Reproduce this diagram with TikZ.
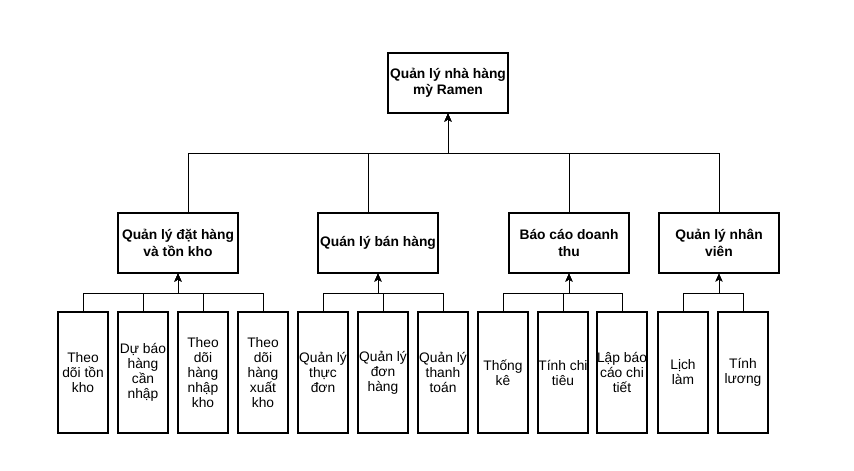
\documentclass[tikz,border=0pt]{standalone}
\usepackage{fontspec}
\setmainfont{Liberation Sans}
\usetikzlibrary{arrows.meta,calc}

\tikzset{
  topbox/.style={draw, line width=1.1pt, minimum width=120pt, minimum height=60pt,
    inner sep=0pt, align=center, font=\bfseries\fontsize{13.8}{16.5}\selectfont},
  leafbox/.style={draw, line width=1.1pt, minimum width=50pt, minimum height=121pt,
    inner sep=0pt, align=center, font=\fontsize{13.8}{15}\selectfont},
  link/.style={line width=1pt, -{Stealth[length=8pt,width=7pt,inset=2pt]}},
  bus/.style={line width=1pt}
}

\begin{document}
\begin{tikzpicture}[x=1pt,y=-1pt]
    \useasboundingbox (0,0) rectangle (854,471);
    % root
    \node [topbox] (root) at (448,83) {Quản lý nhà hàng\\mỳ Ramen};
    % second level
    \node [topbox] (order) at (178,243) {Quản lý đặt hàng\\và tồn kho};
    \node [topbox] (sale) at (378,243) {Quán lý bán hàng};
    \node [topbox] (report) at (569,243) {Báo cáo doanh\\thu};
    \node [topbox] (staff) at (719,243) {Quản lý nhân\\viên};
    % leaves
    \node [leafbox] (stock) at (83,372.5) {Theo\\dõi tồn\\kho};
    \node [leafbox] (forecast) at (143,372.5) {Dự báo\\hàng\\cần\\nhập};
    \node [leafbox] (import) at (203,372.5) {Theo\\dõi\\hàng\\nhập\\kho};
    \node [leafbox] (export) at (263,372.5) {Theo\\dõi\\hàng\\xuất\\kho};
    \node [leafbox] (menu) at (323,372.5) {Quản lý\\thực\\đơn};
    \node [leafbox] (orders) at (383,372.5) {Quản lý\\đơn\\hàng};
    \node [leafbox] (pay) at (443,372.5) {Quản lý\\thanh\\toán};
    \node [leafbox] (stats) at (503,372.5) {Thống\\kê};
    \node [leafbox] (spend) at (563,372.5) {Tính chi\\tiêu};
    \node [leafbox] (detail) at (622,372.5) {Lập báo\\cáo chi\\tiết};
    \node [leafbox] (shift) at (683,372.5) {Lịch\\làm};
    \node [leafbox] (salary) at (743,372.5) {Tính\\lương};
    % bus rows
    \coordinate (b0) at ($(root.south)+(0,40)$);
    \coordinate (b1) at ($(order.south)+(0,20)$);
    \coordinate (b2) at ($(sale.south)+(0,20)$);
    \coordinate (b3) at ($(report.south)+(0,20)$);
    \coordinate (b4) at ($(staff.south)+(0,20)$);
    % second level to root
    \draw [link] ([xshift=10pt]order.north) |- (b0) -- (root.south);
    \draw [link] ([xshift=-10pt]sale.north) |- (b0) -- (root.south);
    \draw [link] (report.north) |- (b0) -- (root.south);
    \draw [link] (staff.north) |- (b0) -- (root.south);
    % leaves to second level
    \draw [link] (stock.north) |- (b1) -- (order.south);
    \draw [link] (forecast.north) |- (b1) -- (order.south);
    \draw [link] (import.north) |- (b1) -- (order.south);
    \draw [link] (export.north) |- (b1) -- (order.south);
    \draw [link] (menu.north) |- (b2) -- (sale.south);
    \draw [link] (orders.north) |- (b2) -- (sale.south);
    \draw [link] (pay.north) |- (b2) -- (sale.south);
    \draw [link] (stats.north) |- (b3) -- (report.south);
    \draw [link] (spend.north) |- (b3) -- (report.south);
    \draw [link] (detail.north) |- (b3) -- (report.south);
    \draw [link] (shift.north) |- (b4) -- (staff.south);
    \draw [link] (salary.north) |- (b4) -- (staff.south);
\end{tikzpicture}
\end{document}
